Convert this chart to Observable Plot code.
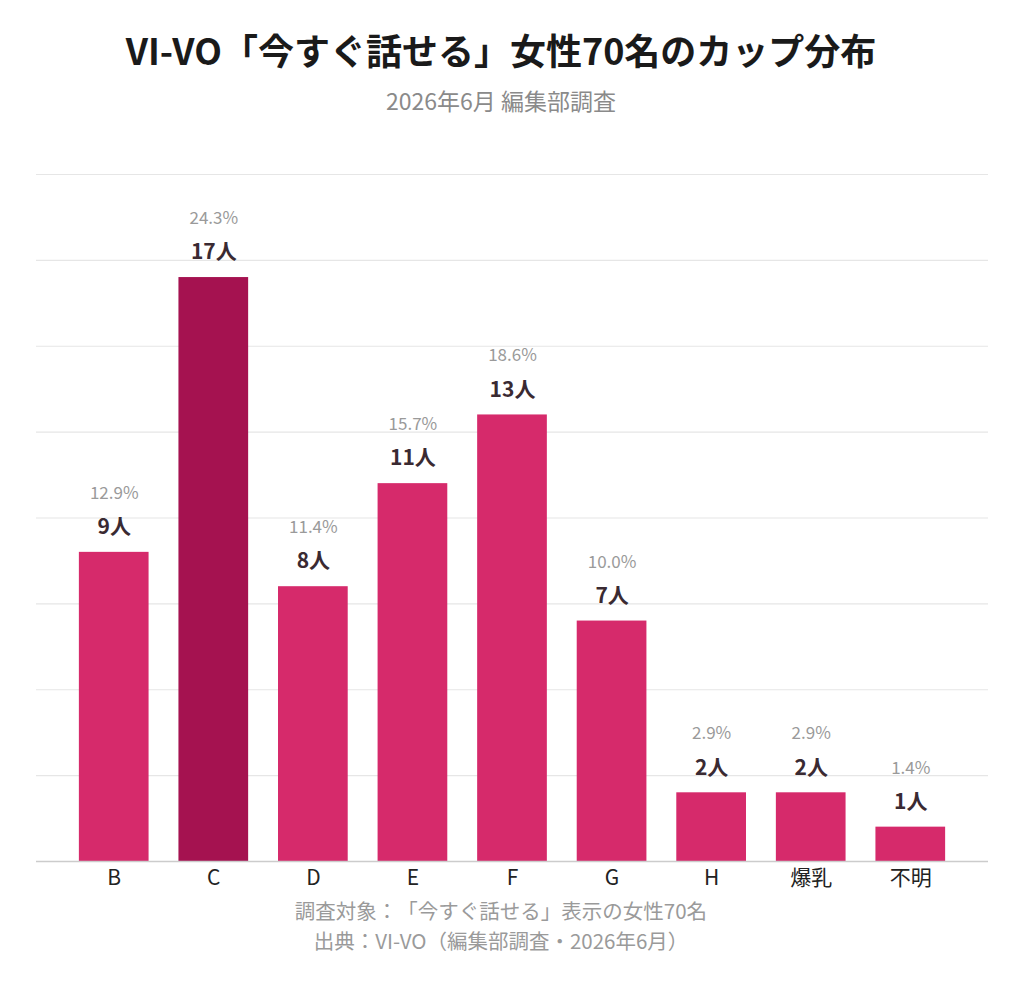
<!DOCTYPE html>
<html><head><meta charset="utf-8">
<script src="https://cdn.jsdelivr.net/npm/d3@7"></script>
<script src="https://cdn.jsdelivr.net/npm/@observablehq/plot@0.6"></script>
<style>
body{margin:0;background:#fff;font-family:"Noto Sans CJK JP","Noto Sans",sans-serif;text-spacing-trim:space-all;}
#wrap{position:relative;width:1024px;height:986px;}
.t{position:absolute;left:0;width:1002px;text-align:center;white-space:nowrap;}
#title{top:24px;font-size:36px;font-weight:700;color:#1a1a1a;line-height:50px;}
#sub{top:85px;font-size:23px;color:#8a8a8a;line-height:30px;}
#chart{position:absolute;left:0;top:130px;}
#n1{top:896px;font-size:20.5px;color:#9a9a9a;line-height:28px;}
#n2{top:926px;font-size:20.5px;color:#9a9a9a;line-height:28px;}
svg text{text-spacing-trim:space-all;}
</style></head>
<body><div id="wrap">
<div class="t" id="title">VI-VO「今すぐ話せる」女性70名のカップ分布</div>
<div class="t" id="sub">2026年6月 編集部調査</div>
<div id="chart"></div>
<div class="t" id="n1">調査対象：「今すぐ話せる」表示の女性70名</div>
<div class="t" id="n2">出典：VI-VO（編集部調査・2026年6月）</div>
</div>
<script>
const cups = ["B","C","D","E","F","G","H","爆乳","不明"];
const counts = [9,17,8,11,13,7,2,2,1];
const percents = ["12.9%","24.3%","11.4%","15.7%","18.6%","10.0%","2.9%","2.9%","1.4%"];
const highlight = "C";
const gridTicks = [2.5,5,7.5,10,12.5,15,17.5,20];

const data = cups.map((c,i)=>({cup:c,n:counts[i],pct:percents[i],label:counts[i]+"人"}));

const chart = Plot.plot({
  width:1024,
  height:771,
  marginLeft:36,
  marginRight:36,
  marginTop:44,
  marginBottom:40,
  style:{fontFamily:'"Noto Sans CJK JP","Noto Sans",sans-serif',background:"transparent"},
  x:{domain:cups,padding:0.3,round:false,insetLeft:13,insetRight:13,label:null,tickSize:0,tickPadding:8},
  y:{domain:[0,20],axis:null},
  marks:[
    Plot.ruleY(gridTicks,{stroke:"#e6e6e6",strokeWidth:1.2}),
    Plot.barY(data,{x:"cup",y:"n",fill:d=>d.cup===highlight?"#a51250":"#d62a6b"}),
    Plot.ruleY([0],{stroke:"#cccccc",strokeWidth:1.5}),
    Plot.text(data,{x:"cup",y:"n",text:"label",dy:-25,fontSize:21,fontWeight:700,fill:"#3a2a32"}),
    Plot.text(data,{x:"cup",y:"n",text:"pct",dy:-59,fontSize:17,fill:"#9a9a9a"}),
    Plot.axisX({tickSize:0,tickPadding:9,fontSize:21,fill:"#222",label:null})
  ]
});
document.getElementById("chart").appendChild(chart);
</script>
</body></html>
